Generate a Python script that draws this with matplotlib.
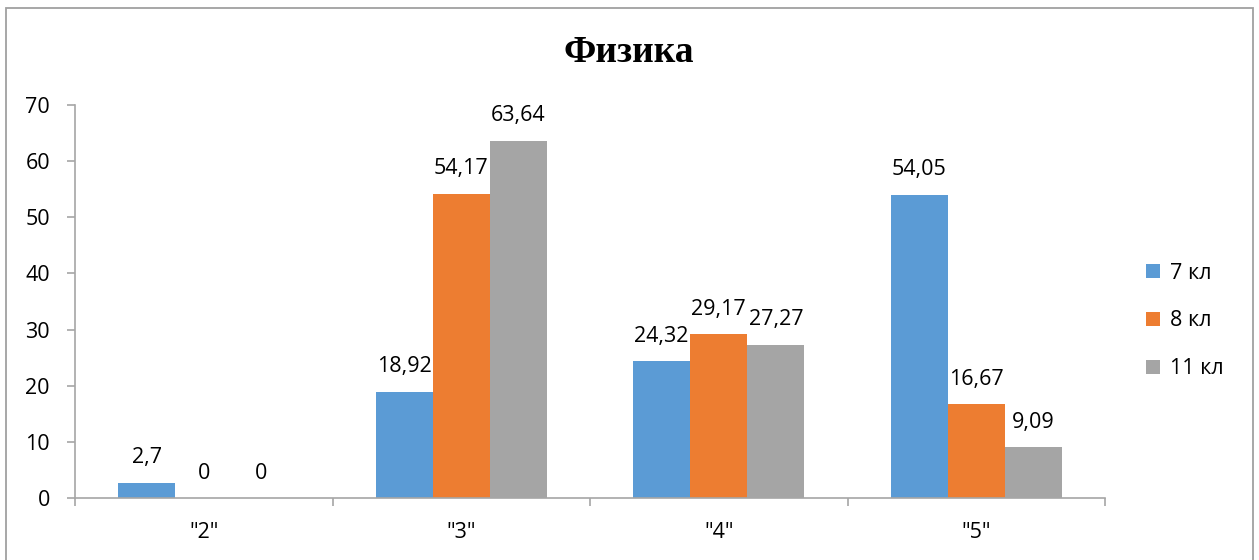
import matplotlib
matplotlib.use("Agg")
import matplotlib.pyplot as plt
import numpy as np
from matplotlib.patches import Rectangle

categories = ['"2"', '"3"', '"4"', '"5"']
series_names = ["7 кл", "8 кл", "11 кл"]
v7 = [2.7, 18.92, 24.32, 54.05]
v8 = [0, 54.17, 29.17, 16.67]
v11 = [0, 63.64, 27.27, 9.09]
labels7 = ["2,7", "18,92", "24,32", "54,05"]
labels8 = ["0", "54,17", "29,17", "16,67"]
labels11 = ["0", "63,64", "27,27", "9,09"]
colors = ["#5B9BD5", "#ED7D31", "#A5A5A5"]
yticks = [0, 10, 20, 30, 40, 50, 60, 70]

W, H = 1259, 560
fig = plt.figure(figsize=(W / 100, H / 100), dpi=100)
fig.patch.set_facecolor("white")

font = ["Open Sans", "DejaVu Sans"]
fs = 15.5

# outer chart border
fig.add_artist(Rectangle((5.5 / W, -0.05), (1253 - 5.5) / W, 1 - 7.5 / H + 0.05,
                         transform=fig.transFigure, fill=False,
                         edgecolor="#A0A0A0", linewidth=1.3))

ax = fig.add_axes([75 / W, 1 - 498 / H, (1105 - 75) / W, (498 - 105) / H])
x = np.arange(len(categories))
bw = 0.222
all_vals = [v7, v8, v11]
all_labels = [labels7, labels8, labels11]
for i, (vals, labs) in enumerate(zip(all_vals, all_labels)):
    pos = x + (i - 1) * bw
    ax.bar(pos, vals, width=bw, color=colors[i], label=series_names[i])
    for p, v, l in zip(pos, vals, labs):
        ax.annotate(l, (p, v), xytext=(0, 14), textcoords="offset points",
                    ha="center", va="baseline", fontsize=fs, family=font,
                    color="#000000")

ax.set_xlim(-0.5, 3.5)
ax.set_ylim(0, 70)
ax.set_yticks(yticks)
ax.set_yticklabels([str(t) for t in yticks], family=font, fontsize=fs)
ax.set_xticks(x)
ax.set_xticklabels(categories, family=font, fontsize=fs)
ax.tick_params(axis="x", which="major", length=0, pad=17)
ax.set_xticks(np.arange(-0.5, 4.0, 1.0), minor=True)
ax.tick_params(axis="x", which="minor", length=6, color="#A6A6A6", width=1.2)
ax.tick_params(axis="y", length=6, color="#A6A6A6", width=1.2, pad=12)
for s in ["top", "right"]:
    ax.spines[s].set_visible(False)
for s in ["left", "bottom"]:
    ax.spines[s].set_color("#A6A6A6")
    ax.spines[s].set_linewidth(1.2)

fig.text(629 / W, 1 - 52 / H, "Физика", ha="center", va="center",
         fontsize=27, fontweight="bold", family=["Liberation Serif", "DejaVu Serif"])

fig.legend(loc="center left", bbox_to_anchor=(1127 / W, 1 - 321 / H),
           frameon=False, prop={"family": font, "size": fs},
           handlelength=0.65, handleheight=0.65, handletextpad=0.45,
           labelspacing=1.25)

fig.savefig("out.png", dpi=100)
